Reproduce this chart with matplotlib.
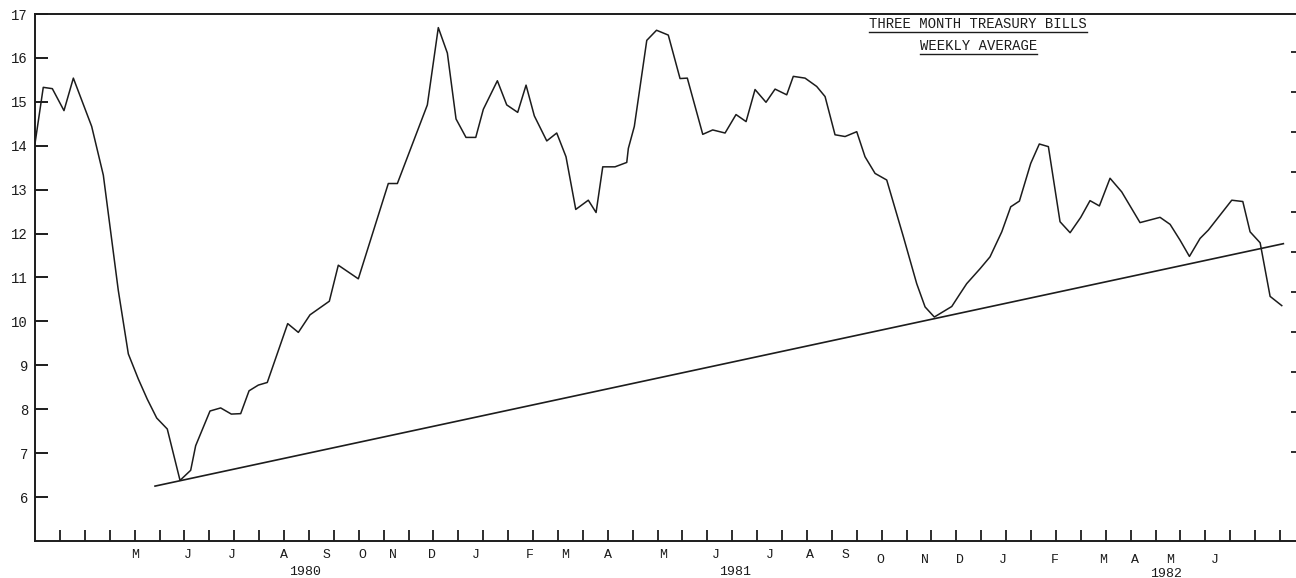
import numpy as np
import matplotlib
matplotlib.use("Agg")
from matplotlib import pyplot as plt
from matplotlib.lines import Line2D

# three month treasury bills, weekly average
# x = weeks counted from the left edge of the chart (about mid April 1980)
weeks = [0.0, 0.83, 1.74, 2.91, 3.85, 5.69, 6.86, 8.36, 9.37, 10.37,
         11.27, 12.22, 13.28, 14.56, 15.63, 16.13, 17.57, 18.64, 19.71, 20.65,
         21.49, 22.42, 23.32, 25.37, 26.44, 27.61, 29.55, 30.45, 32.46, 35.47,
         36.38, 39.39, 40.49, 41.40, 42.27, 43.27, 44.25, 45.01, 46.42, 47.36,
         48.46, 49.30, 50.13, 51.38, 52.38, 53.31, 54.29, 55.55, 56.33, 57.00,
         58.23, 59.41, 59.57, 60.17, 61.42, 62.40, 63.58, 64.76, 65.49, 67.04,
         68.04, 69.28, 70.38, 71.39, 72.29, 73.39, 74.30, 75.47, 76.13, 77.31,
         78.48, 79.32, 80.32, 81.33, 82.50, 83.33, 84.34, 85.51, 87.18, 88.52,
         89.36, 90.29, 92.04, 92.87, 93.54, 94.88, 95.88, 97.06, 97.96, 98.83,
         99.97, 100.83, 101.74, 102.91, 103.92, 104.99, 105.92, 106.86, 107.93, 109.10,
         110.94, 112.95, 113.96, 114.96, 115.90, 116.97, 117.80, 120.15, 121.26, 121.99,
         123.00, 124.00, 125.17]
rates = [14.05, 15.33, 15.30, 14.80, 15.54, 14.44, 13.33, 10.71, 9.26, 8.69,
         8.23, 7.80, 7.55, 6.38, 6.61, 7.17, 7.96, 8.03, 7.89, 7.90,
         8.42, 8.55, 8.61, 9.95, 9.75, 10.15, 10.46, 11.28, 10.97, 13.14,
         13.14, 14.93, 16.69, 16.11, 14.61, 14.19, 14.19, 14.83, 15.48, 14.93,
         14.76, 15.38, 14.68, 14.11, 14.29, 13.75, 12.55, 12.76, 12.48, 13.52,
         13.52, 13.62, 13.94, 14.44, 16.40, 16.63, 16.52, 15.53, 15.54, 14.26,
         14.36, 14.29, 14.71, 14.55, 15.28, 14.99, 15.29, 15.16, 15.58, 15.54,
         15.35, 15.12, 14.25, 14.21, 14.32, 13.75, 13.37, 13.22, 11.93, 10.86,
         10.33, 10.10, 10.34, 10.63, 10.86, 11.20, 11.47, 12.04, 12.61, 12.74,
         13.60, 14.04, 13.98, 12.27, 12.02, 12.37, 12.75, 12.63, 13.26, 12.95,
         12.25, 12.37, 12.21, 11.85, 11.48, 11.89, 12.08, 12.76, 12.73, 12.04,
         11.79, 10.57, 10.36]

# hand drawn support line
trend_weeks = [12.05, 125.33]
trend_rates = [6.25, 11.77]

month_names = ["M", "J", "J", "A", "S", "O", "N", "D",
               "J", "F", "M", "A", "M", "J", "J", "A", "S", "O", "N", "D",
               "J", "F", "M", "A", "M", "J"]
month_weeks = [10.04, 15.36, 19.78, 25.0, 29.32, 32.83, 35.94, 39.86,
               44.28, 49.70, 53.21, 57.53, 63.05, 68.37, 73.80, 77.81, 81.33, 84.84, 89.36, 92.87,
               97.19, 102.41, 107.23, 110.44, 113.96, 118.47]
years = ["1980", "1981", "1982"]
year_weeks = [27.1, 70.3, 113.6]

ink = "#1c1c1c"
mono = "Liberation Mono"

fig = plt.figure(figsize=(12.96, 5.78), dpi=100)
ax = fig.add_axes([35/1296, 37/578, 1261/1296, 527/578])

ax.plot(weeks, rates, color=ink, lw=1.1)
ax.plot(trend_weeks, trend_rates, color=ink, lw=1.2)

ax.set_xlim(0, 126.6)
ax.set_ylim(5, 17)
ax.set_yticks(range(6, 18))
ax.set_yticklabels([str(v) for v in range(6, 18)], fontfamily=mono, fontsize=10, color=ink)
ax.set_xticks(np.arange(2.5, 126, 2.5))
ax.set_xticklabels([])
ax.tick_params(axis="y", direction="in", length=9, width=1.4, pad=5, colors=ink)
ax.tick_params(axis="x", direction="in", length=8, width=1.3, colors=ink)
for s in ["left", "bottom", "top"]:
    ax.spines[s].set_linewidth(1.4)
    ax.spines[s].set_color(ink)
ax.spines["right"].set_visible(False)

# small marks along the right edge of the scan
ax2 = ax.twinx()
ax2.set_ylim(-0.225, 12.95)
ax2.set_yticks(range(2, 13))
ax2.set_yticklabels([])
ax2.tick_params(axis="y", direction="in", length=3.5, width=1.3, colors=ink)
for s in ax2.spines.values():
    s.set_visible(False)

tr = ax.get_xaxis_transform()
for i, (m, w) in enumerate(zip(month_names, month_weeks)):
    yy = -0.027 if i < 17 else -0.037
    ax.text(w, yy, m, transform=tr, ha="center", va="center",
            fontfamily=mono, fontsize=9.5, color=ink)
for i, (y, w) in enumerate(zip(years, year_weeks)):
    ax.text(w, -0.059 if i < 2 else -0.063, y, transform=tr, ha="center", va="center",
            fontfamily=mono, fontsize=9.5, color=ink)

t1 = ax.text(0.748, 0.981, "THREE MONTH TREASURY BILLS", transform=ax.transAxes,
             ha="center", va="center", fontfamily=mono, fontsize=10, color=ink)
t2 = ax.text(0.748, 0.939, "WEEKLY AVERAGE", transform=ax.transAxes,
             ha="center", va="center", fontfamily=mono, fontsize=10, color=ink)

# underline the two title lines
fig.canvas.draw()
inv = fig.transFigure.inverted()
for t in (t1, t2):
    bb = t.get_window_extent()
    (x0, y0), (x1, _) = inv.transform([(bb.x0, bb.y0 - 1), (bb.x1, bb.y0 - 1)])
    fig.add_artist(Line2D([x0, x1], [y0, y0], color=ink, lw=1.0, transform=fig.transFigure))

fig.savefig("out.png", dpi=100, facecolor="white")
